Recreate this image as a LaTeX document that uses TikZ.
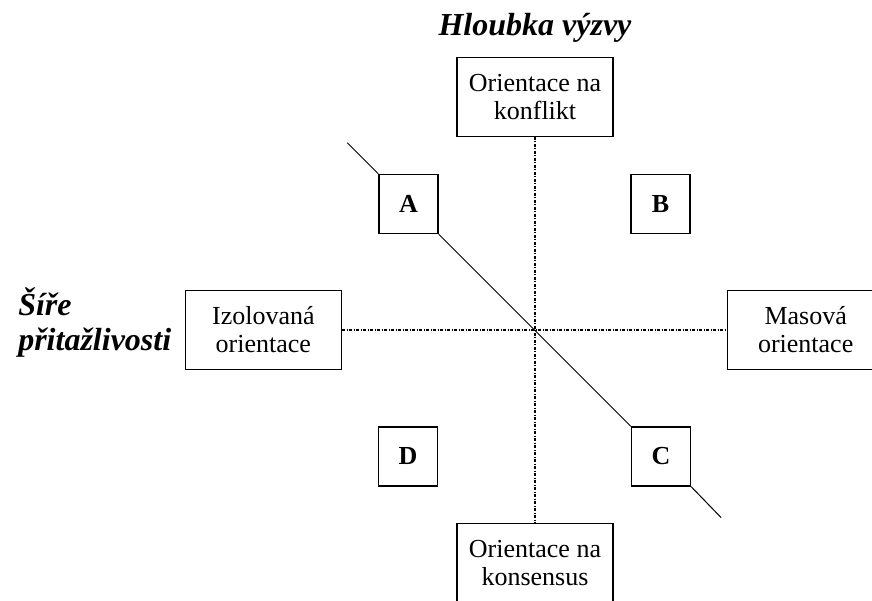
\documentclass[tikz,border=0pt]{standalone}
\usepackage{fontspec}
\setmainfont{Liberation Serif}
\usetikzlibrary{positioning}

\begin{document}
\begin{tikzpicture}[x=1pt, y=1pt, node distance=193pt, line width=1pt]
  \tikzstyle{orient}=[draw, line width=1.3pt, fill=white, minimum width=156pt, minimum height=79pt,
                      inner sep=0pt, align=center, font=\fontsize{26}{28}\selectfont]
  \tikzstyle{quad}=[draw, line width=1.3pt, fill=white, minimum size=59pt, inner sep=0pt,
                    font=\fontsize{26}{26}\selectfont\bfseries]
  \tikzstyle{axis}=[dash pattern=on 3pt off 1.5pt on 1pt off 1.5pt, line width=1.1pt]
  \tikzstyle{heading}=[inner sep=0pt, align=left, font=\fontsize{32}{35}\selectfont\bfseries\itshape]

  \useasboundingbox (0,0) rectangle (872,600);
  \clip (0,0) rectangle (872,600);

  \coordinate (o) at (535,270);
  \node[orient] (konf) [above=of o]       {Orientace na\\konflikt};
  \node[orient] (kons) [below=of o]       {Orientace na\\konsensus};
  \node[orient] (izol) [left=of o]        {Izolovan\'a\\orientace};
  \node[orient] (mas)  [right=192pt of o] {Masov\'a\\orientace};

  \node[heading] (hloubka) [above=14pt of konf] {Hloubka výzvy};
  \node[heading] (sire)    [left=13pt of izol, yshift=7pt] {Šíře\\přitažlivosti};

  %% quadrants
  \node[quad] (A) at (408.5,396) {A};
  \node[quad] (B) at (660.5,396) {B};
  \node[quad] (C) at (661,143.5) {C};
  \node[quad] (D) at (408,143.5) {D};

  \coordinate[above left=31pt and 31pt of A.north west]  (nwend);
  \coordinate[below right=31pt and 30pt of C.south east] (seend);

  %% axes
  \draw[axis] (konf) -- (kons);
  \draw[axis] (izol) -- (mas);

  %% diagonal
  \draw (nwend) -- (A.north west);
  \draw (A.south east) -- (C.north west);
  \draw (C.south east) -- (seend);
\end{tikzpicture}
\end{document}
